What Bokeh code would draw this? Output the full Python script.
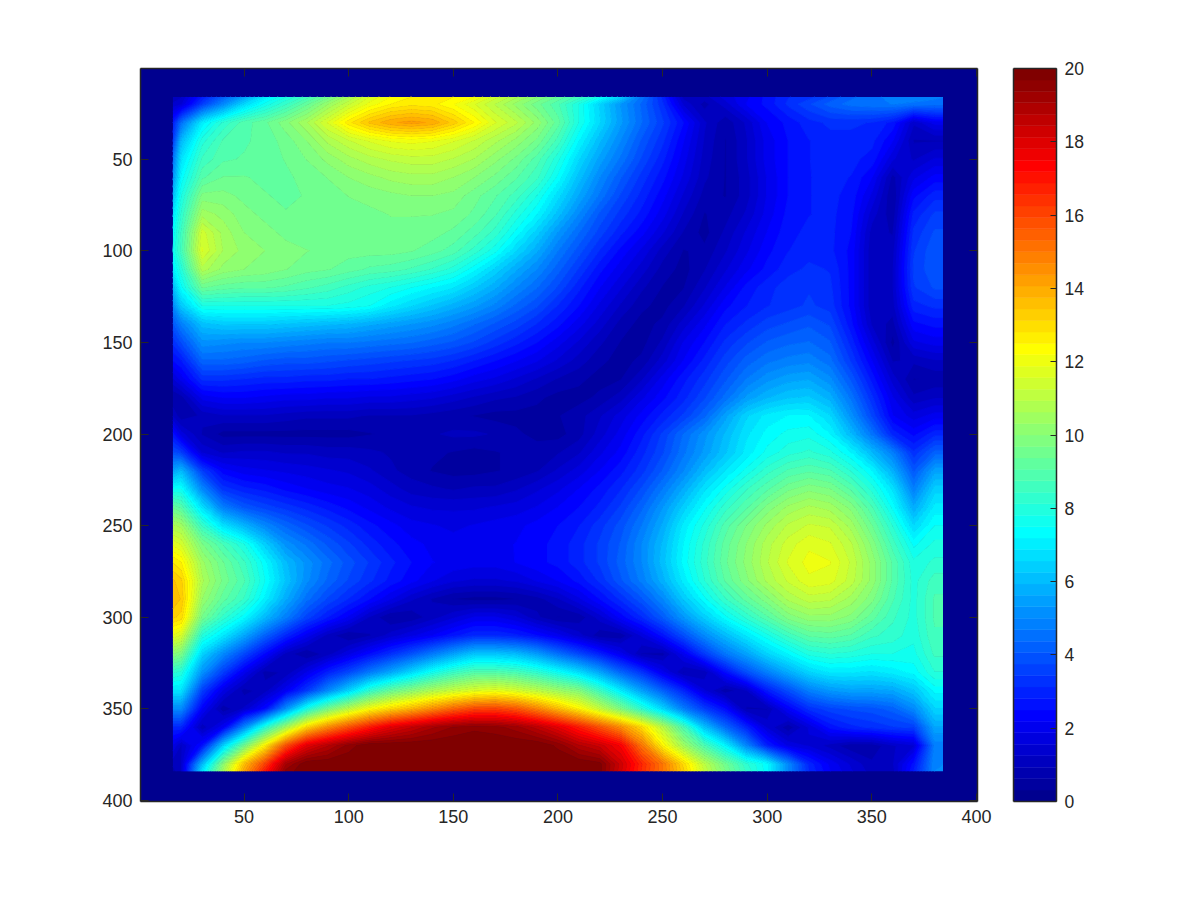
import math
import numpy as np
from bokeh.plotting import figure
from bokeh.layouts import row
from bokeh.models import LinearAxis, FixedTicker, Range1d, Label
from bokeh.embed import file_html
from bokeh.resources import INLINE

tick_values = [50, 100, 150, 200, 250, 300, 350, 400]
bar_ticks = [0, 2, 4, 6, 8, 10, 12, 14, 16, 18, 20]
bar_label = "Percentage"

# Sample positions of the values below (both directions run 16, 20, 30 ... 380, 384).
positions = [16] + list(range(20, 390, 10)) + [384]

# Percentages: one list per y = 20..380, for x = 20..380.
r020 = [1.5,3.5,5,6.6,7.6,8.4,9.3,10.3,11.2,12, 12.5,12.7,12.6,12.2,11.6,10.9,10.2,9.5,8.8,7.8, 6.5,5.3,4.3,3.2,1.5,.8,1.4,2.2,2.6,3.2, 3.7,4.2,4.5,4.6,4.7,4.6,4.5]
r030 = [4.5,7,8.2,8.9,9.3,9.9,10.6,11.6,12.7,13.5, 14,14.2,14,13.3,12.5,11.6,11,10.2,9.2,7.8, 6.6,5.4,4.4,3.5,2.5,1.3,.7,1.3,2.2,2.6, 3,3.2,3.2,3.1,2.7,1.3,2]
r040 = [6,8,8.8,9,9.2,9.5,10,10.7,11.2,11.6, 11.9,12,11.9,11.6,11.2,10.7,10.2,9.6,8.6,7.2, 6,5,4,3.2,2.2,1.2,.6,1.2,2,2.5, 2.8,3,3,2.9,2.2,.9,.9]
r050 = [6.8,8.5,9,9.1,9.2,9.4,9.7,10.1,10.5,10.8, 11,11.1,11.1,10.9,10.6,10.1,9.6,8.9,7.9,6.6, 5.5,4.6,3.7,2.9,2,1.1,.6,1.2,2,2.5, 2.8,3,2.9,2.7,1.6,1.2,1.6]
r060 = [7.3,9,9.4,9.4,9.3,9.3,9.5,9.7,10,10.2, 10.4,10.5,10.5,10.3,10,9.6,9.1,8.5,7.4,6.1, 5,4.1,3.3,2.6,1.8,1,.6,1.1,1.9,2.5, 2.8,2.9,2.8,2.2,.8,1.8,2.3]
r070 = [7.8,9.8,9.8,9.6,9.4,9.3,9.4,9.5,9.7,9.8, 9.9,10,10,9.9,9.5,9.1,8.6,7.8,6.7,5.6, 4.6,3.7,3,2.3,1.5,.8,.6,1.1,1.9,2.5, 2.8,2.9,2.7,1.8,.6,2.4,3]
r080 = [8.2,10.5,10.2,9.8,9.6,9.4,9.4,9.4,9.5,9.6, 9.7,9.7,9.7,9.6,9.3,8.8,8,7.2,6.1,5, 4,3.3,2.7,2,1.2,.6,.8,1.3,2,2.6, 2.8,2.9,2.6,1.4,.7,2.9,3.5]
r090 = [8.5,11.4,10.5,10,9.8,9.6,9.5,9.4,9.4,9.5, 9.6,9.6,9.5,9.3,8.9,8.3,7.4,6.4,5.3,4.4, 3.6,2.9,2.3,1.6,.9,.5,1,1.6,2.2,2.7, 2.9,2.9,2.5,1.1,.9,3.2,3.8]
r100 = [8.6,11.6,10.6,10.2,10,9.8,9.7,9.6,9.5,9.5, 9.5,9.4,9.2,8.9,8.3,7.6,6.6,5.7,4.7,3.9, 3.1,2.4,1.8,1.1,.6,.7,1.2,1.8,2.4,2.8, 3,2.9,2.4,1,1.1,3.4,4]
r110 = [8,10.8,10.2,10,9.9,9.7,9.5,9.4,9.2,9, 8.9,8.7,8.4,8,7.3,6.5,5.7,5,4.2,3.4, 2.6,2,1.4,.8,.5,.9,1.5,2.1,2.6,3, 3.2,3.1,2.4,1,1.2,3.5,4]
r120 = [7.4,9.4,9.2,9.1,9.1,9,8.8,8.6,8.3,8, 7.8,7.5,7.2,6.9,6.3,5.7,5,4.4,3.7,2.9, 2.2,1.6,1,.6,.6,1.2,1.9,2.6,3,3.3, 3.4,3.2,2.4,1,1.2,3.4,3.8]
r130 = [6.3,7.8,7.8,7.8,7.8,7.8,7.8,7.8,7.7,7.5, 7,6.6,6.2,5.8,5.4,4.9,4.3,3.8,3.1,2.5, 1.8,1.2,.7,.5,.9,1.6,2.4,2.8,3.1,3.3, 3.5,3.3,2.4,1,1.1,3,3.2]
r140 = [4.8,6.1,6.3,6.3,6.3,6.2,6.1,6,5.9,5.7, 5.5,5.3,5.1,4.8,4.4,4,3.6,3.1,2.6,2, 1.4,.8,.5,.7,1.4,2.1,2.8,3.2,3.6,3.8, 4,3.7,2.6,1.2,.8,2.4,2.6]
r150 = [3.8,5.2,5.1,5,5,4.9,4.8,4.7,4.7,4.6, 4.5,4.4,4.2,4,3.7,3.3,2.9,2.5,2,1.5, 1,.6,.5,1,1.9,2.5,3.2,3.7,4.1,4.3, 4.4,4.1,3,1.7,.5,1.8,2]
r160 = [2.8,4.3,4.3,4.2,4,3.9,3.9,3.8,3.7,3.6, 3.5,3.4,3.3,3.1,2.8,2.5,2.2,1.9,1.5,1.1, .7,.5,.7,1.4,2.2,2.9,3.6,4.2,4.6,4.8, 4.9,4.5,3.4,2.2,.9,1,1.2]
r170 = [2,3.2,3.2,3.1,3,3,2.9,2.9,2.8,2.8, 2.7,2.6,2.5,2.3,2,1.8,1.5,1.2,.9,.7, .5,.6,1.2,2,2.7,3.3,4,4.7,5.2,5.5, 5.6,5.1,4,2.7,1.4,.6,.7]
r180 = [.8,2,2.2,2.2,2.1,2,2,1.9,1.9,1.8, 1.8,1.7,1.6,1.4,1.2,1,.9,.7,.5,.5, .7,1.1,1.8,2.4,3,3.7,4.5,5.4,5.9,6.2, 6.3,5.8,4.6,3.2,1.9,1,1.2]
r190 = [.7,1,1.2,1.2,1.2,1.1,1,1,1,.9, .9,.9,.8,.7,.6,.5,.5,.5,.6,.8, 1.2,1.7,2.3,2.9,3.5,4.3,5.5,6.5,7,7.2, 7.2,6.6,5.2,3.7,2.2,1.7,2]
r200 = [1.7,.9,.5,.5,.5,.5,.5,.5,.5,.6, .7,.8,.9,1,1,.9,.7,.5,.5,.8, 1.4,2,2.7,3.5,4.4,5.2,6,6.8,7.3,7.6, 7.7,7.2,6,4.6,3,2.4,3]
r210 = [3.5,1.5,1.2,1.3,1.3,1.2,1.2,1.1,1.1,1, .9,.8,.7,.6,.5,.6,.7,.8,.9,1.2, 1.8,2.3,3,3.7,4.6,5.4,6.2,7,7.6,8, 8.2,7.9,7.2,6,4.8,3.2,4.2]
r220 = [6,3.5,2.3,2,1.9,1.8,1.7,1.6,1.5,1.3, 1,.8,.6,.5,.5,.6,.7,.9,1.3,1.7, 2.2,2.7,3.3,4.1,5,6,6.9,7.6,8.3,8.8, 9,8.8,8.1,7.2,5.8,4,5.5]
r230 = [7.5,5,3.3,2.9,2.7,2.4,2.2,2,1.9,1.7, 1.4,1.1,1,.9,1,1,1.2,1.5,1.8,2.2, 2.6,3.1,3.8,4.7,5.7,6.8,7.6,8.4,9,9.6, 9.9,9.7,9,8,6.8,4.8,6.4]
r240 = [9,6.8,4.8,4,3.6,3.3,3,2.7,2.4,2.1, 1.8,1.6,1.5,1.5,1.5,1.6,1.7,1.9,2.2,2.5, 2.9,3.5,4.3,5.3,6.4,7.4,8.3,9,9.8,10.4, 10.7,10.5,9.9,8.8,7.4,5.7,7]
r250 = [10.5,8.4,6.8,5.9,5,4.3,3.8,3.4,3,2.6, 2.3,2,1.9,1.8,1.9,2,2.1,2.3,2.5,2.8, 3.3,3.9,4.7,5.7,7,7.9,8.9,9.7,10.4,11, 11.3,11.2,10.5,9.4,8.1,6.6,7.5]
r260 = [11.5,9.7,8.7,7.8,6.4,5.2,4.6,4,3.5,3, 2.6,2.3,2.1,2,2,2.1,2.2,2.4,2.6,3, 3.5,4.1,5,6,7.2,8.2,9.2,10,10.8,11.4, 11.8,11.6,11,9.9,8.6,7.4,7.9]
r270 = [12.5,10.4,9.4,8.5,7.3,6,5.2,4.5,3.9,3.4, 2.9,2.5,2.2,2.1,2,2,2.2,2.4,2.6,3, 3.5,4.2,5,6.1,7.3,8.3,9.3,10.1,10.9,11.6, 12,11.9,11.2,10.2,9,7.9,8.2]
r280 = [13.2,10.7,9.6,8.8,7.5,6.2,5.1,4.3,3.7,3.2, 2.7,2.3,1.9,1.6,1.5,1.5,1.6,1.9,2.2,2.6, 3.2,4,4.8,5.8,7,8.1,9.1,9.9,10.7,11.3, 11.8,11.7,11.1,10.2,9,8,8.6]
r290 = [13.4,10.3,9.2,8.4,7.1,5.7,4.5,3.7,3.1,2.5, 1.9,1.3,.9,.6,.5,.5,.6,.8,1.2,1.8, 2.5,3.2,4,5,6.3,7.4,8.4,9.2,9.9,10.7, 11.1,11,10.5,9.8,8.8,8,8.8]
r300 = [13,9.6,8.3,7.3,6,4.8,3.6,2.8,2.1,1.2, .6,.7,1.1,1.5,1.9,1.9,1.6,1,.6,.7, 1.4,2.3,3.1,4.1,5.3,6.4,7.4,8.2,9,9.8, 10.2,10.2,9.9,9.2,8.5,8,8.8]
r310 = [11.5,8,6.9,5.6,4.2,3,2,1.1,.6,.9, 1.4,1.8,2.2,2.7,3.1,3.1,2.9,2.5,2,1.4, .7,.7,1.6,2.6,3.8,5,6,6.9,7.7,8.5, 9.1,9.2,9,8.5,8.3,7.9,8.7]
r320 = [9.7,6.5,5,3.7,2.4,1.1,.6,1.1,1.8,2.5, 3.2,3.9,4.7,5.5,6.2,6.2,6,5.4,4.5,3.7, 2.9,2,.9,.8,2,3.4,4.6,5.5,6.5,7.2, 7.9,8.1,8,7.8,7.8,7.7,8.5]
r330 = [8,5.2,3.5,2,.8,1,1.9,2.9,3.7,4.7, 5.6,6.6,7.6,8.4,8.9,8.9,8.7,8.2,7.5,6.7, 5.6,4.3,3.3,2,.9,1,2.5,3.8,4.8,5.7, 6.5,6.9,6.9,6.8,7,7.3,8.1]
r340 = [6.8,3.5,1.8,.8,1.1,2.1,3.4,5,6.5,8.2, 9.3,10,10.7,11.2,11.6,11.8,11.5,11,10.4,9.9, 8.5,7,5.5,4.2,3,1.6,.7,1.2,2.8,3.8, 4.8,5.3,5.5,5.5,5.6,6.2,7.3]
r350 = [5,2.2,.7,1.3,2.5,5.2,7.8,9.6,11,12.2, 13,13.7,14.5,15.3,15.9,16,15.6,14.7,13.6,12.5, 11.2,9.8,8.2,6.6,4.8,3.5,2.5,.9,.9,2.2, 3.2,3.6,3.8,3.9,4.2,5,6.5]
r360 = [3,1,2.1,5,8,10.5,13,14.5,15.7,16.8, 17.8,18.4,19,19.4,19.6,19.5,19.2,18.6,17.8,16.8, 15.7,14.5,13,11,8.8,6.2,4.4,3,1.5,.7, 1.6,2.6,3,3.2,3.4,3.5,5.6]
r370 = [1.2,2.6,6.5,9.5,12.5,15.7,17.8,18.7,19.5,20, 20,20,20,20,20,20,20,20,19.6,18.8, 18.3,17.4,15,12.5,10.5,8.8,7.2,5,2.9,1.8, 1.5,1.1,.7,.7,1.2,1.5,4.8]
r380 = [1.2,6,10,13.5,16,19,20,20,20,20, 20,20,20,20,20,20,20,20,20,20, 19.8,18.3,16.6,15,13,11,9.5,8.2,7.3,5, 3,2.1,1.5,1,1.2,2.6,5]

# The rim of the data block, read separately: columns x = 16 and x = 384 for y = 20..380.
left_rim = [1.3,2.8,3.4,4.5,5.2,6,6.8,7.3,7.5,7, 6,5,4,3.2,2.5,1.5,.6,1.2,2.6,3.8, 5.5,7.5,9.3,10.7,11.8,12.8,13.5,13.7,13.2,11.8, 10,8.2,6.8,5,3,1.8,1]
right_rim = [4.5,2,.9,1.6,2.3,3,3.5,3.8,4,4, 3.8,3.2,2.6,2,1.2,.7,1.2,2,3,4.2, 5.5,6.4,7,7.5,7.9,8.2,8.6,8.8,8.8,8.7, 8.5,8.1,7.3,6.5,5.6,4.8,5]
# Rows y = 16 and y = 384 for x = 16, 20, 30 .. 380, 384.
top_rim = [1,1.2,2.8,4.2,5.5,7,7.8,8.6,9.5,10.6, 11.6,12.2,12.5,12.6,12.5,12.2,11.4,10.7,10,9.3, 8.6,7.6,6.4,4.6,3,1.1,1.1,1.7,2.1,2.6, 3.1,3.3,3.8,4.3,4.6,4.8,4.9,4.8,4.7]
bottom_rim = [.8,1.2,6.8,10.5,14,16.8,19.5,20,20,20, 20,20,20,20,20,20,20,20,20,20, 20,19.8,18.2,16.5,15,13.2,11.2,9.7,8.4,7.3, 5,3.1,2.2,1.6,1.1,1.1,2.8,5,5.2]

rows = [r020,r030,r040,r050,r060,r070,r080,r090,r100,r110,r120,r130,r140,r150,r160,r170,r180,r190,r200,
        r210,r220,r230,r240,r250,r260,r270,r280,r290,r300,r310,r320,r330,r340,r350,r360,r370,r380]
inner = np.array(rows, dtype=float)
grid = np.vstack([top_rim, np.column_stack([left_rim, inner, right_rim]), bottom_rim])


def jet(n=64):
    out = []
    for i in range(1, n + 1):
        t = i / n
        r = np.clip(min(4 * t - 1.5, 4.5 - 4 * t), 0, 1)
        g = np.clip(min(4 * t - 0.5, 3.5 - 4 * t), 0, 1)
        b = np.clip(min(4 * t + 0.5, 2.5 - 4 * t), 0, 1)
        out.append("#%02x%02x%02x" % (round(r * 255), round(g * 255), round(b * 255)))
    return out


palette = jet()
INK = "#262626"
FONT = "Liberation Sans"

p = figure(
    frame_width=837, frame_height=733, width=1008, height=892,
    x_range=Range1d(0.5, 400.5), y_range=Range1d(400.5, 0.5),
    output_backend="svg", toolbar_location=None, tools="",
    x_axis_type=None, y_axis_type=None,
    min_border_left=140, min_border_right=31, min_border_top=68, min_border_bottom=91,
    background_fill_color=palette[0], border_fill_color="white",
)
p.grid.visible = False
p.outline_line_color = None

# 64 colour bands between 0 and 20, drawn by Bokeh's own contour glyph from the read-off values.
levels = list(np.linspace(0, 20, len(palette) + 1))
levels[-1] = 20.01
p.contour(positions, positions, grid, levels, fill_color=palette, line_color=palette + [palette[-1]], line_width=1)


def box_axis(fig, side, labelled, ticks, size):
    ax = LinearAxis(ticker=FixedTicker(ticks=ticks))
    ax.major_tick_in = 8
    ax.major_tick_out = 0
    ax.minor_tick_in = 0
    ax.minor_tick_out = 0
    ax.major_tick_line_color = INK
    ax.major_tick_line_width = 1
    ax.axis_line_color = INK
    ax.axis_line_width = 1.5
    ax.major_label_text_color = INK
    ax.major_label_text_font = FONT
    ax.major_label_text_font_size = size
    ax.major_label_standoff = 8
    if not labelled:
        ax.major_label_overrides = {t: "" for t in ticks}
        ax.major_label_text_font_size = "1px"
        ax.major_label_standoff = 0
    fig.add_layout(ax, side)
    return ax


box_axis(p, "left", True, tick_values, "18px")
box_axis(p, "below", True, tick_values, "18px")
box_axis(p, "above", False, tick_values, "18px")
box_axis(p, "right", False, tick_values, "18px")

# colour bar: one band per palette entry
edges = np.linspace(0, 20, len(palette) + 1)
c = figure(
    frame_width=43, frame_height=733, width=184, height=892,
    x_range=Range1d(0, 1), y_range=Range1d(0, 20),
    output_backend="svg", toolbar_location=None, tools="",
    x_axis_type=None, y_axis_type=None,
    min_border_left=5, min_border_right=136, min_border_top=68, min_border_bottom=91,
    border_fill_color="white",
)
c.grid.visible = False
c.outline_line_color = None
c.quad(left=0, right=1, bottom=edges[:-1], top=edges[1:], fill_color=palette, line_color=palette, line_width=0.5)
for side in ("left", "above", "below"):
    a = LinearAxis(ticker=FixedTicker(ticks=[]))
    a.axis_line_color = INK
    a.axis_line_width = 1.5
    a.major_label_text_font_size = "1px"
    a.major_tick_in = 0
    a.major_tick_out = 0
    a.minor_tick_in = 0
    a.minor_tick_out = 0
    c.add_layout(a, side)
ra = box_axis(c, "right", True, bar_ticks, "17.5px")
ra.major_tick_in = 6
c.add_layout(Label(
    x=92, y=10, x_units="screen", y_units="data", text=bar_label, angle=math.pi / 2,
    text_align="center", text_baseline="middle", text_font=FONT, text_font_size="18.5px", text_color=INK,
))

layout = row(p, c)
open("out.html", "w").write(file_html(layout, INLINE))
